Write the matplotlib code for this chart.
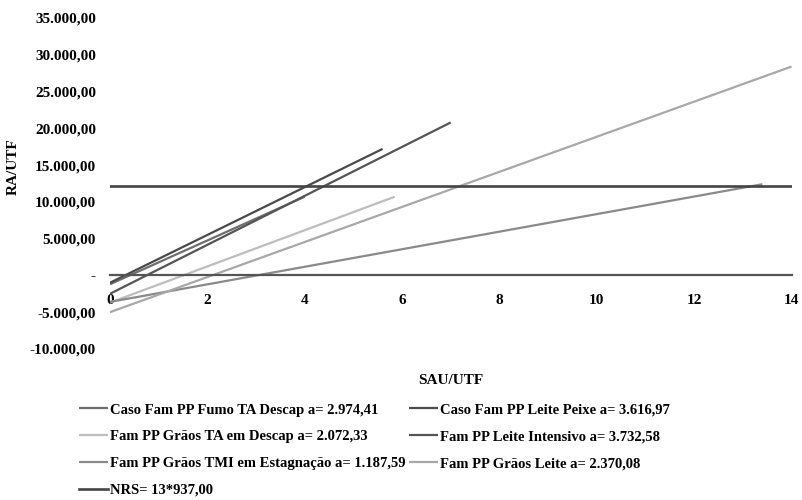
import matplotlib.pyplot as plt
from matplotlib.ticker import FixedLocator

plt.rcParams['font.family'] = ['Liberation Serif', 'DejaVu Serif']
plt.rcParams['font.weight'] = 'bold'

# --- Dados (início e fim de cada reta) ---
series_names = [
    'Caso Fam PP Fumo TA Descap a= 2.974,41',
    'Caso Fam PP Leite Peixe a= 3.616,97',
    'Fam PP Grãos TA em Descap a= 2.072,33',
    'Fam PP Leite Intensivo a= 3.732,58',
    'Fam PP Grãos TMI em Estagnação a= 1.187,59',
    'Fam PP Grãos Leite a= 2.370,08',
]
series_x = [[0, 4.0], [0, 5.6], [0, 5.85], [0, 7.0], [0, 13.4], [0, 14.0]]
series_y = [[-1200, 10700], [-1000, 17200], [-3700, 10700],
            [-2500, 20800], [-3600, 12400], [-5000, 28400]]
series_colors = ['#6e6e6e', '#4a4a4a', '#bdbdbd', '#555555', '#8a8a8a', '#a8a8a8']

nrs_label = 'NRS= 13*937,00'
nrs_value = 13 * 937.0
nrs_x = [0, 14]

yticks = [-10000, -5000, 0, 5000, 10000, 15000, 20000, 25000, 30000, 35000]
ytick_labels = ['-10.000,00', '-5.000,00', '-', '5.000,00', '10.000,00', '15.000,00',
                '20.000,00', '25.000,00', '30.000,00', '35.000,00']
xticks = [0, 2, 4, 6, 8, 10, 12, 14]

fig = plt.figure(figsize=(8.02, 5.0), dpi=100)
ax = fig.add_axes([0.137, 0.302, 0.850, 0.662])

handles = []
for xs, ys, c, name in zip(series_x, series_y, series_colors, series_names):
    h, = ax.plot(xs, ys, color=c, lw=1.6, label=name, solid_capstyle='butt')
    handles.append(h)
h_nrs, = ax.plot(nrs_x, [nrs_value, nrs_value], color='#444444', lw=1.9, label=nrs_label)

ax.set_xlim(0, 14)
ax.set_ylim(-10000, 35000)

ax.spines['top'].set_visible(False)
ax.spines['right'].set_visible(False)
ax.spines['left'].set_visible(False)
ax.spines['bottom'].set_position(('data', 0))
ax.spines['bottom'].set_color('#555555')
ax.spines['bottom'].set_linewidth(1.6)

ax.xaxis.set_major_locator(FixedLocator(xticks))
ax.set_xticklabels([str(v) for v in xticks], fontsize=11, fontweight='bold')
ax.yaxis.set_major_locator(FixedLocator(yticks))
ax.set_yticklabels(ytick_labels, fontsize=11, fontweight='bold')
ax.tick_params(axis='x', length=0, pad=13)
ax.tick_params(axis='y', length=0, pad=10)

ax.set_ylabel('RA/UTF', fontsize=11, fontweight='bold')
ax.yaxis.set_label_coords(-0.132, 0.55)
fig.text(0.5623, 0.24, 'SAU/UTF', ha='center', va='center', fontsize=11, fontweight='bold')

# ordem coluna a coluna para reproduzir a disposição em linhas do original
order = [handles[0], handles[2], handles[4], h_nrs, handles[1], handles[3], handles[5]]
leg = fig.legend(handles=order, labels=[h.get_label() for h in order], ncol=2,
                 loc='upper left', bbox_to_anchor=(0.091, 0.205), frameon=False,
                 fontsize=10.5, handlelength=2.0, handletextpad=0.15,
                 columnspacing=0.2, labelspacing=0.93, borderaxespad=0)

fig.savefig('out.png', dpi=100)
